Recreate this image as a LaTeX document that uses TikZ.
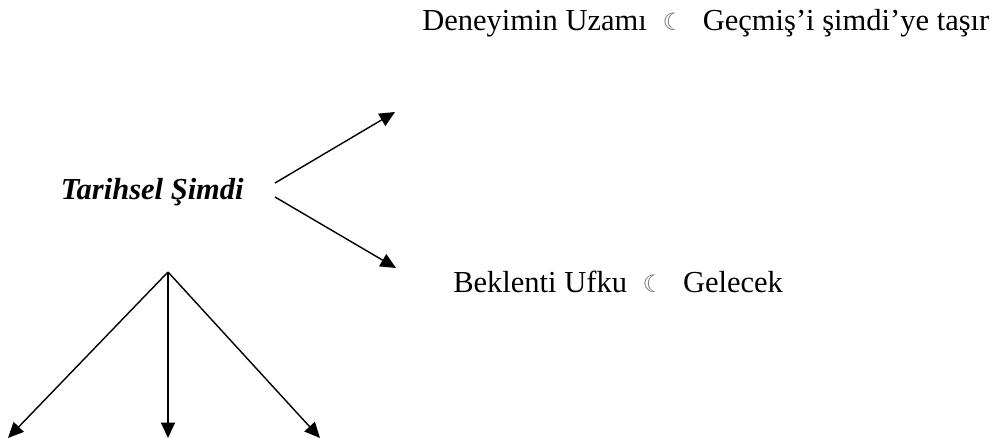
\documentclass[tikz,border=0pt]{standalone}
\usepackage{fontspec}
\setmainfont{Liberation Serif}
\newfontfamily\simgefont{DejaVu Sans}
\usetikzlibrary{arrows.meta}

\newcommand{\ayrac}{\hspace{0.46cm}\makebox[0.4cm][c]{\simgefont\fontsize{17}{17}\selectfont\color{black!55}☾}\hspace{0.54cm}}

\begin{document}
\begin{tikzpicture}[
        x=0.025cm,
        y=-0.025cm,
        >={Triangle[length=11pt,width=10pt]},
        metin/.style={
          inner sep=0pt,
          font=\fontsize{21.7}{26}\selectfont
        },
        projection/.style={
          ->,
          line width=1pt
        }
      ]
        \useasboundingbox (0,0) rectangle (1002,439);

        \node[metin,anchor=base east,font=\fontsize{21.7}{26}\selectfont\bfseries\itshape] (simdi) at (244,200) {Tarihsel Şimdi};
        \node[metin,anchor=base west] (deneyim) at (422,31) {Deneyimin Uzamı\ayrac Geçmiş’i şimdi’ye taşır};
        \node[metin,anchor=base west] (beklenti) at (453,293) {Beklenti Ufku\ayrac Gelecek};

        \coordinate (c1) at (275,183);
        \coordinate (c2) at (275,197);
        \coordinate (u1) at (395,112);
        \coordinate (u2) at (396,268);
        \coordinate (tepe) at (168,272);

        \foreach \x/\n in {8/sol,168/orta,320/sag}
          \coordinate (\n) at (\x,438);

        \draw[projection] (c1) -- (u1);
        \draw[projection] (c2) -- (u2);
        \foreach \n in {sol,orta,sag}
          \draw[projection] (tepe) -- (\n);
      \end{tikzpicture}
\end{document}
